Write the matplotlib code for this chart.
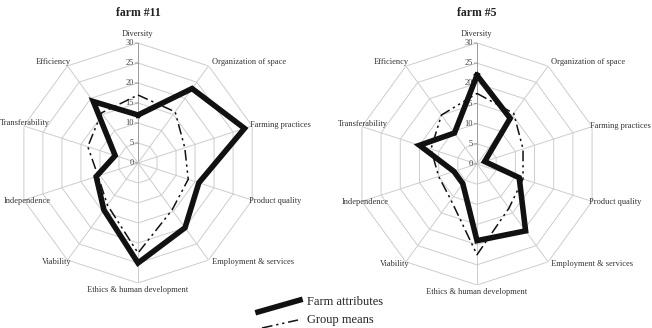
import numpy as np
import matplotlib
matplotlib.use("Agg")
import matplotlib.pyplot as plt
from matplotlib.lines import Line2D

plt.rcParams['font.family'] = ['Liberation Serif', 'DejaVu Serif']

categories = ["Diversity", "Organization of space", "Farming practices", "Product quality",
              "Employment & services", "Ethics & human development", "Viability",
              "Independence", "Transferability", "Efficiency"]
r_ticks = [0, 5, 10, 15, 20, 25, 30]

farm11_attr = [12, 23, 28, 16, 20, 25, 14.5, 11, 6, 19]
farm11_mean = [17, 15.8, 12.3, 13.2, 14.5, 22.5, 13, 10.5, 13.2, 15.5]
farm5_attr = [22, 14, 2, 11, 20.5, 19, 6, 6, 15, 9.5]
farm5_mean = [17.5, 15.5, 12, 12, 13.5, 22.5, 11, 10, 12, 15]

titles = ["farm #11", "farm #5"]

W, H = 652, 328
fig = plt.figure(figsize=(W / 100, H / 100), dpi=100)

# label placement: (ha, dx px, dy px)
label_pos = [("center", 0, 9), ("left", 3, 4), ("left", -2, 1), ("left", -3, -1),
             ("left", 3, -2), ("center", 0, -7), ("right", 4, -2), ("center", 3, -1),
             ("center", 1, 3), ("right", 3, 4)]

DASH = (0, (7, 2.5, 1.5, 2.5, 1.5, 2.5))

def radar(cx, cy, rad, attr, mean, title):
    ax = fig.add_axes([(cx - rad) / W, (H - cy - rad) / H, 2 * rad / W, 2 * rad / H],
                      projection="polar")
    ax.set_theta_offset(np.pi / 2)
    ax.set_theta_direction(-1)
    ax.set_ylim(0, 30)
    ax.grid(False)
    ax.spines["polar"].set_visible(False)
    ax.set_xticks([])
    ax.set_yticks([])
    ax.patch.set_alpha(0)
    n = len(categories)
    th = np.linspace(0, 2 * np.pi, n, endpoint=False)
    thc = np.append(th, th[0])
    gc = "#cdcdcd"
    for r in r_ticks[1:]:
        ax.plot(thc, [r] * (n + 1), color=gc, lw=0.7, zorder=1)
    for i, t in enumerate(th):
        ax.plot([t, t], [0, 30], color=gc if i else "#9a9a9a", lw=0.7, zorder=1)
    # radial tick labels along Diversity axis
    for r in r_ticks:
        ax.annotate(str(r), (0, r), xytext=(-4, 0), textcoords="offset pixels",
                    ha="right", va="center", fontsize=6, color="#444444")
        ax.annotate("", (0, r), xytext=(-3, 0), textcoords="offset pixels",
                    arrowprops=dict(arrowstyle="-", color="#9a9a9a", lw=0.7,
                                    shrinkA=0, shrinkB=0))
    for i, (t, lab) in enumerate(zip(th, categories)):
        ha, dx, dy = label_pos[i]
        ax.annotate(lab, (t, 30), xytext=(dx, dy), textcoords="offset pixels",
                    ha=ha, va="center", fontsize=6, color="#333333",
                    annotation_clip=False)
    ax.plot(thc, np.append(mean, mean[0]), color="#111111", lw=1.1,
            linestyle=DASH, zorder=3)
    ax.plot(thc, np.append(attr, attr[0]), color="#111111", lw=4.0,
            solid_joinstyle="miter", zorder=4)
    fig.text(cx / W, 1 - 13 / H, title, ha="center", va="center",
             fontsize=8.5, fontweight="bold", color="#222222")

radar(138, 163, 120, farm11_attr, farm11_mean, titles[0])
radar(477, 164, 121, farm5_attr, farm5_mean, titles[1])

# legend
def fx(x): return x / W
def fy(y): return 1 - y / H
fig.add_artist(Line2D([fx(258), fx(300)], [fy(312), fy(300)], color="#111111", lw=4.0))
fig.add_artist(Line2D([fx(262), fx(298)], [fy(328), fy(320)], color="#111111", lw=1.1,
                      linestyle=DASH))
fig.text(fx(307), fy(302), "Farm attributes", ha="left", va="center", fontsize=9, color="#222222")
fig.text(fx(307), fy(320), "Group means", ha="left", va="center", fontsize=9, color="#222222")

fig.savefig("out.png", dpi=100, facecolor="white")
